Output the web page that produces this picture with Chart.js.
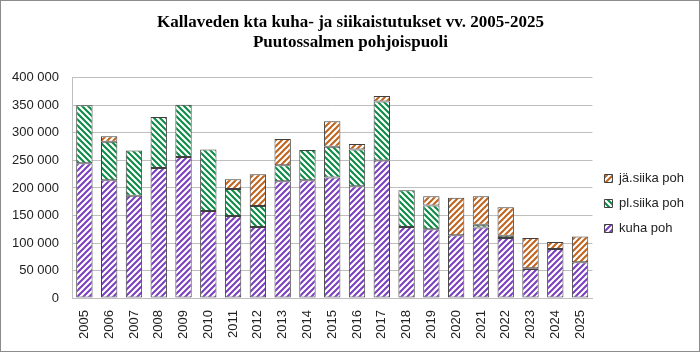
<!DOCTYPE html>
<html>
<head>
<meta charset="utf-8">
<script src="https://cdn.jsdelivr.net/npm/chart.js@4"></script>
<style>
  html, body { margin: 0; padding: 0; background: #fff; }
  #wrap { position: relative; width: 700px; height: 352px; box-sizing: border-box; border: 1px solid #8c8c8c; }
</style>
</head>
<body>
<div id="wrap"><canvas id="istutukset"></canvas></div>
<script>
const years = ["2005", "2006", "2007", "2008", "2009", "2010", "2011", "2012", "2013", "2014", "2015",
    "2016", "2017", "2018", "2019", "2020", "2021", "2022", "2023", "2024", "2025"];

const kuhaPoh = [245000, 214000, 186000, 236000, 256000, 158000, 149000, 129000, 212000, 214000, 219000,
    203000, 250000, 129000, 125000, 114000, 128000, 109000, 53000, 89000, 65000];
const plSiikaPoh = [105000, 70000, 82000, 93000, 95000, 112000, 49000, 38000, 29000, 55000, 56000,
    67000, 107000, 67000, 43000, null, 5000, 4000, 1000, null, null];
const jaSiikaPoh = [null, 10000, null, null, null, null, 18000, 58000, 48000, null, 46000,
    10000, 10000, null, 17000, 68000, 52000, 52000, 55000, 13000, 47000];

const yTicks = [0, 50000, 100000, 150000, 200000, 250000, 300000, 350000, 400000];

// vinoviivakuviot palkkeihin
function stripes(color, dir) {
    const s = 6;
    const c = document.createElement('canvas');
    c.width = s; c.height = s;
    const g = c.getContext('2d');
    g.fillStyle = '#fff';
    g.fillRect(0, 0, s, s);
    g.strokeStyle = color;
    g.lineWidth = 2;
    g.beginPath();
    if (dir === '/') {
        g.moveTo(-1, s + 1); g.lineTo(s + 1, -1);
        g.moveTo(-1, 1); g.lineTo(1, -1);
        g.moveTo(s - 1, s + 1); g.lineTo(s + 1, s - 1);
    } else {
        g.moveTo(-1, -1); g.lineTo(s + 1, s + 1);
        g.moveTo(-1, s - 1); g.lineTo(1, s + 1);
        g.moveTo(s - 1, -1); g.lineTo(s + 1, 1);
    }
    g.stroke();
    return g.createPattern(c, 'repeat');
}

const ctx = document.getElementById('istutukset').getContext('2d');
const fmt = v => String(v).replace(/\B(?=(\d{3})+(?!\d))/g, ' ');

// selite hieman alemmas kuten alkuperäisessä
const legendShift = {
    id: 'legendShift',
    afterLayout(chart) {
        chart.legend.top += 59;
    }
};

new Chart(ctx, {
    type: 'bar',
    data: {
        labels: years,
        datasets: [
            { label: 'kuha poh', data: kuhaPoh, backgroundColor: stripes('#7a3fc0', '/') },
            { label: 'pl.siika poh', data: plSiikaPoh, backgroundColor: stripes('#0b8a45', '\\') },
            { label: 'jä.siika poh', data: jaSiikaPoh, backgroundColor: stripes('#c0631c', '/') }
        ].map(d => Object.assign(d, {
            borderColor: '#404040',
            borderWidth: 1,
            borderSkipped: false,
            barPercentage: 0.66,
            categoryPercentage: 1
        }))
    },
    options: {
        responsive: true,
        maintainAspectRatio: false,
        animation: false,
        layout: { padding: { left: 6, right: 5, top: 4, bottom: 8 } },
        plugins: {
            title: {
                display: true,
                text: ['Kallaveden kta kuha- ja siikaistutukset vv. 2005-2025', 'Puutossalmen pohjoispuoli'],
                color: '#000',
                font: { family: 'Liberation Serif', size: 17, weight: 'bold', lineHeight: 1.2 },
                padding: { top: 7, bottom: 25 }
            },
            legend: {
                position: 'right',
                reverse: true,
                labels: {
                    boxWidth: 8,
                    boxHeight: 8,
                    padding: 12,
                    color: '#222',
                    font: { family: 'Liberation Sans', size: 13 }
                }
            },
            tooltip: { enabled: false }
        },
        scales: {
            x: {
                stacked: true,
                grid: { display: false },
                border: { color: '#bfbfbf' },
                ticks: {
                    color: '#222',
                    font: { family: 'Liberation Sans', size: 13 },
                    maxRotation: 90,
                    minRotation: 90,
                    padding: 4
                }
            },
            y: {
                stacked: true,
                min: 0,
                max: 400000,
                afterBuildTicks: axis => { axis.ticks = yTicks.map(v => ({ value: v })); },
                afterFit: axis => { axis.width = 65; },
                grid: { color: '#bfbfbf', drawTicks: false },
                border: { color: '#bfbfbf' },
                ticks: {
                    color: '#222',
                    font: { family: 'Liberation Sans', size: 13 },
                    padding: 13,
                    callback: v => fmt(v)
                }
            }
        }
    },
    plugins: [legendShift]
});
</script>
</body>
</html>
